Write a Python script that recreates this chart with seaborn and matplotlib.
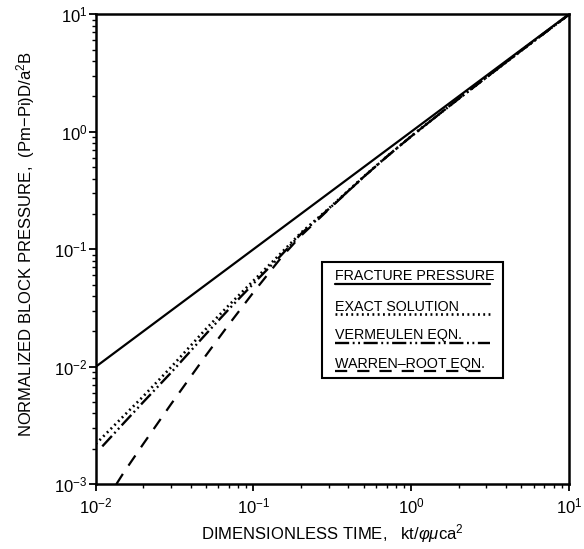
import matplotlib
matplotlib.use("Agg")
import matplotlib.pyplot as plt
import seaborn as sns
import pandas as pd

# --- data (log-log) ---
time_frac = [0.01, 10.0]
p_frac = [0.01, 10.0]

time_exact = [0.01, 0.015, 0.02, 0.03, 0.05, 0.07, 0.1, 0.15, 0.2, 0.3, 0.5, 0.7, 1.0, 2.0, 5.0, 10.0]
p_exact = [0.0022, 0.0038, 0.0056, 0.0099, 0.021, 0.0335, 0.054, 0.093, 0.138, 0.222, 0.415, 0.615, 0.915, 1.91, 4.91, 9.91]

time_verm = [0.011, 0.015, 0.02, 0.03, 0.05, 0.07, 0.1, 0.15, 0.2, 0.3, 0.5, 0.7, 1.0, 2.0, 5.0, 10.0]
p_verm = [0.0021, 0.0033, 0.0050, 0.0089, 0.019, 0.031, 0.051, 0.089, 0.135, 0.22, 0.413, 0.613, 0.913, 1.91, 4.91, 9.91]

time_wr = [0.0135, 0.015, 0.02, 0.03, 0.05, 0.07, 0.1, 0.15, 0.2, 0.3, 0.5, 0.7, 1.0, 2.0, 5.0, 10.0]
p_wr = [0.0010, 0.00125, 0.0022, 0.0048, 0.0125, 0.023, 0.043, 0.085, 0.13, 0.218, 0.413, 0.613, 0.913, 1.91, 4.91, 9.91]

legend_labels = ["FRACTURE PRESSURE", "EXACT SOLUTION", "VERMEULEN EQN.", "WARREN\u2013ROOT EQN."]

# style
sns.set_theme(style="ticks")
plt.rcParams['font.family'] = ['Liberation Sans', 'DejaVu Sans']
plt.rcParams['mathtext.fontset'] = 'custom'
plt.rcParams['mathtext.rm'] = 'Liberation Sans'
plt.rcParams['mathtext.it'] = 'Liberation Sans:italic'
plt.rcParams['mathtext.bf'] = 'Liberation Sans:bold'

styles = [
    '-',
    (0, (0.7, 1.3)),
    (0, (6, 1.5, 0.8, 1.5, 0.8, 1.5)),
    (0, (5.5, 4.5)),
]
widths = [1.6, 1.9, 1.7, 1.6]

fig = plt.figure(figsize=(5.84, 5.49), dpi=100)
ax = fig.add_axes([0.164, 0.118, 0.810, 0.856])

series = [(time_frac, p_frac), (time_exact, p_exact), (time_verm, p_verm), (time_wr, p_wr)]
for (t, p), ls, lw in zip(series, styles, widths):
    df = pd.DataFrame({'t': t, 'p': p})
    sns.lineplot(data=df, x='t', y='p', ax=ax, color='black', linestyle=ls,
                 linewidth=lw, estimator=None, sort=False)

ax.set_xscale('log')
ax.set_yscale('log')
ax.set_xlim(0.01, 10)
ax.set_ylim(0.001, 10)

for s in ax.spines.values():
    s.set_linewidth(1.8)
    s.set_color('black')

ax.tick_params(which='major', direction='out', length=5, width=1.3, labelsize=12,
               color='black', labelcolor='black')
ax.tick_params(axis='x', which='major', pad=4)
ax.tick_params(axis='y', which='major', pad=1)
ax.tick_params(which='minor', direction='out', length=3, width=1.0, color='black')
ax.tick_params(top=False, right=False, which='both')

ax.set_xlabel(r"DIMENSIONLESS TIME,   kt/$\varphi\mu$ca$^2$", fontsize=12, color='black')
ax.set_ylabel(r"NORMALIZED BLOCK PRESSURE,  (Pm$-$Pi)D/a$^2$B", fontsize=12, color='black')
ax.xaxis.set_label_coords(0.5, -0.081)
ax.yaxis.set_label_coords(-0.125, 0.51)

# hand-drawn style legend: text with a line underneath
box = plt.Rectangle((0.478, 0.226), 0.382, 0.246, transform=ax.transAxes,
                    fill=False, edgecolor='black', linewidth=1.5, zorder=5)
ax.add_patch(box)
text_y = [0.434, 0.369, 0.308, 0.248]
line_y = [0.427, 0.362, 0.300, 0.241]
for lab, ty, ly, ls, lw in zip(legend_labels, text_y, line_y, styles, widths):
    ax.text(0.505, ty, lab, transform=ax.transAxes, fontsize=10.3, va='baseline',
            ha='left', color='black')
    ax.plot([0.505, 0.833], [ly, ly], transform=ax.transAxes, color='black',
            linestyle=ls, linewidth=lw)

fig.savefig('out.png', dpi=100)
